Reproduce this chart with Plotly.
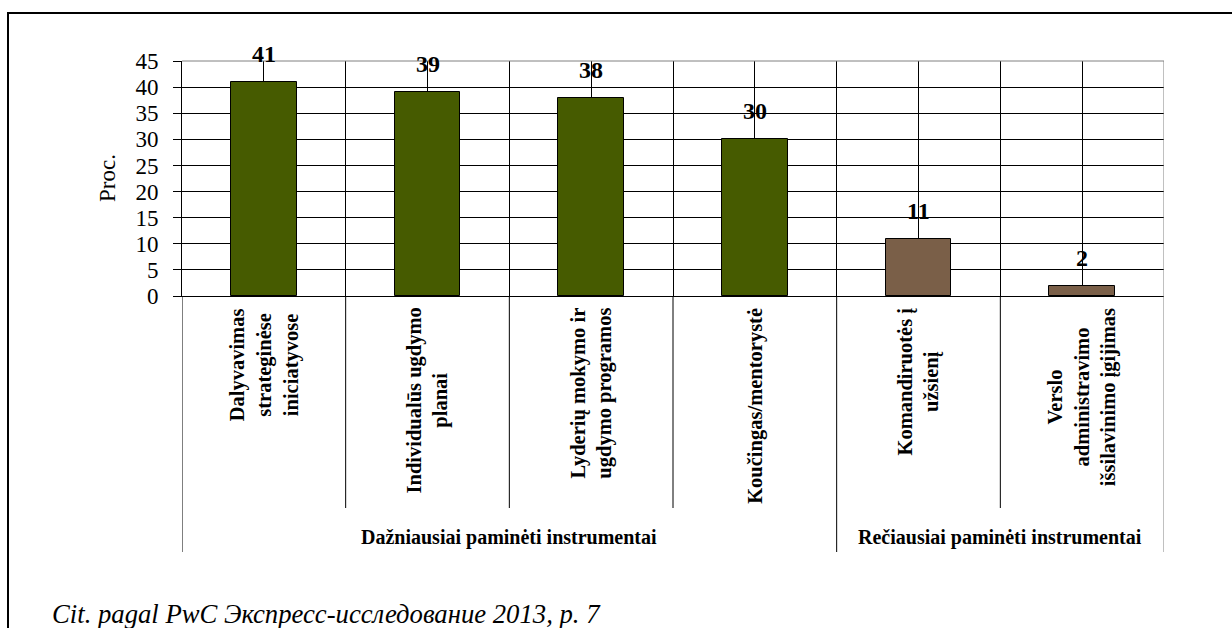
import plotly.graph_objects as go

categories = [
    "Dalyvavimas<br>strateginėse<br>iniciatyvose",
    "Individualūs ugdymo<br>planai",
    "Lyderių mokymo ir<br>ugdymo programos",
    "Koučingas/mentorystė",
    "Komandiruotės į<br>užsienį",
    "Verslo<br>administravimo<br>išsilavinimo įgijimas",
]
values = [41, 39, 38, 30, 11, 2]
groups = ["Dažniausiai paminėti instrumentai", "Rečiausiai paminėti instrumentai"]
group_index = [0, 0, 0, 0, 1, 1]
group_colors = ["#465B00", "#7A5F48"]
y_ticks = [0, 5, 10, 15, 20, 25, 30, 35, 40, 45]
y_title = "Proc."
source = "Cit. pagal PwC Экспресс-исследование 2013, p. 7"

W, H = 1232, 628
L, R, T, B = 182, 1164, 61, 296
pw, ph = R - L, B - T


def px_x(p):
    return (p - L) / pw


def px_y(p):
    return (B - p) / ph


FONT = "Liberation Serif"
xs = list(range(len(categories)))

fig = go.Figure()
fig.add_trace(go.Bar(
    x=xs, y=values, width=0.4,
    marker=dict(color=[group_colors[g] for g in group_index],
                line=dict(color="black", width=1)),
    hoverinfo="skip",
))

annotations = []
# data labels
for x, v in zip(xs, values):
    annotations.append(dict(x=x, y=v, xref="x", yref="y", text=f"<b>{v}</b>",
                            showarrow=False, yanchor="bottom", yshift=13,
                            font=dict(family=FONT, size=24, color="black")))
# category labels
for x, c in zip(xs, categories):
    annotations.append(dict(x=x, y=px_y(306), xref="x", yref="paper", text=f"<b>{c}</b>",
                            showarrow=False, textangle=-90, xanchor="center", yanchor="top",
                            align="center",
                            font=dict(family=FONT, size=20.5, color="black")))
# group labels
gstart = 0
for gi, g in enumerate(groups):
    n = group_index.count(gi)
    cx = gstart + (n - 1) / 2
    annotations.append(dict(x=cx, y=px_y(537), xref="x", yref="paper", text=f"<b>{g}</b>",
                            showarrow=False, xanchor="center", yanchor="middle",
                            font=dict(family=FONT, size=20, color="black")))
    gstart += n
# y title
annotations.append(dict(x=px_x(107), y=px_y(178), xref="paper", yref="paper", text=y_title,
                        showarrow=False, textangle=-90, xanchor="center", yanchor="middle",
                        font=dict(family=FONT, size=23, color="black")))
# source
annotations.append(dict(x=px_x(50), y=px_y(614), xref="paper", yref="paper", text=f"<i>{source}</i>",
                        showarrow=False, xanchor="left", yanchor="middle",
                        font=dict(family=FONT, size=26.7, color="black")))

shapes = []
# category separators below axis
for i in range(len(categories) - 1):
    b = i + 0.5
    if group_index[i] != group_index[i + 1]:
        continue
    shapes.append(dict(type="line", xref="x", yref="paper", x0=b, x1=b,
                       y0=0, y1=px_y(508), line=dict(color="black", width=1)))
# group separators
bounds = [-0.5]
acc = -0.5
for gi in range(len(groups)):
    acc += group_index.count(gi)
    bounds.append(acc)
for k, b in enumerate(bounds):
    col = "#808080" if k == len(bounds) - 1 else "black"
    y1 = px_y(552)
    y0 = 1 if k == len(bounds) - 1 else 0
    shapes.append(dict(type="line", xref="x", yref="paper", x0=b, x1=b,
                       y0=y0, y1=y1, line=dict(color=col, width=1)))
# gray top border
shapes.append(dict(type="line", xref="paper", yref="paper", x0=0, x1=1, y0=1, y1=1,
                   line=dict(color="#808080", width=1)))
# outer frame
shapes.append(dict(type="rect", xref="paper", yref="paper",
                   x0=px_x(8), x1=px_x(1245), y0=px_y(645), y1=px_y(13),
                   line=dict(color="black", width=2)))

grid_vals = [v / 2 for v in range(0, 2 * len(categories) - 1)]
fig.update_layout(
    width=W, height=H,
    margin=dict(l=L, r=W - R, t=T, b=H - B, pad=0),
    paper_bgcolor="white", plot_bgcolor="white",
    showlegend=False,
    bargap=0,
    xaxis=dict(range=[-0.5, len(categories) - 0.5], tickvals=grid_vals, showticklabels=False,
               showgrid=True, gridcolor="black", gridwidth=1, zeroline=False,
               showline=True, linecolor="black", linewidth=1, ticks=""),
    yaxis=dict(range=[0, 45], tickvals=y_ticks, showgrid=True, gridcolor="black", gridwidth=1,
               zeroline=False, showline=True, linecolor="black", linewidth=1,
               ticks="outside", ticklen=8, tickcolor="black", ticklabelstandoff=10,
               tickfont=dict(family=FONT, size=23, color="black")),
    annotations=annotations,
    shapes=shapes,
)

fig.write_html(
    "out.html",
    config={"displayModeBar": False},
    post_script="document.body.style.margin='0';document.body.style.overflow='hidden';",
)
